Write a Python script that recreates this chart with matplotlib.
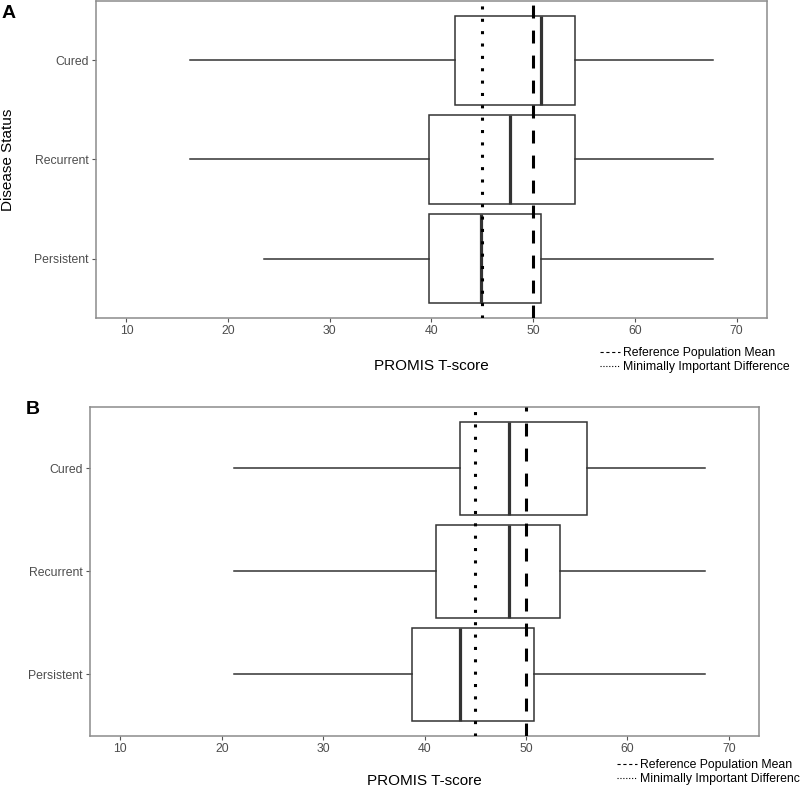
import matplotlib
matplotlib.use('Agg')
import matplotlib.pyplot as plt
from matplotlib.lines import Line2D

plt.rcParams['font.family'] = ['Liberation Sans', 'DejaVu Sans']
plt.rcParams['lines.scale_dashes'] = False

# ---------------- data ----------------
categories = ['Persistent', 'Recurrent', 'Cured']

# Panel A
a_whislo = [23.5, 16.2, 16.2]
a_q1 = [39.8, 39.8, 42.3]
a_med = [44.9, 47.7, 50.8]
a_q3 = [50.8, 54.1, 54.1]
a_whishi = [67.7, 67.7, 67.7]

# Panel B
b_whislo = [21.2, 21.2, 21.2]
b_q1 = [38.8, 41.1, 43.5]
b_med = [43.5, 48.3, 48.3]
b_q3 = [50.8, 53.3, 56.0]
b_whishi = [67.6, 67.6, 67.6]

ref_mean = 50
min_diff = 45
x_ticks = [10, 20, 30, 40, 50, 60, 70]
x_limits = (7, 73)
legend_labels = ['Reference Population Mean', 'Minimally Important Difference']

# ---------------- figure ----------------
W, H = 800, 790
fig = plt.figure(figsize=(W / 100, H / 100), dpi=100)


def fx(px):
    return px / W


def fy(py):
    return 1 - py / H


def panel(rect, lo, q1, med, q3, hi):
    ax = fig.add_axes(rect)
    stats = [dict(whislo=l, q1=a, med=m, q3=b, whishi=h, label=c)
             for l, a, m, b, h, c in zip(lo, q1, med, q3, hi, categories)]
    ax.bxp(stats, positions=[1, 2, 3], widths=0.9, orientation='horizontal',
           showfliers=False, showcaps=False, patch_artist=True,
           boxprops=dict(facecolor='white', edgecolor='#333333', linewidth=1.1),
           medianprops=dict(color='#333333', linewidth=2.3, solid_capstyle='butt'),
           whiskerprops=dict(color='#333333', linewidth=1.1))
    ax.axvline(min_diff, color='black', lw=2.2, ls=(0, (2.2, 6.7)), zorder=6)
    ax.axvline(ref_mean, color='black', lw=2.2, ls=(0, (9.3, 8.7)), zorder=6)
    ax.set_xlim(*x_limits)
    ax.set_ylim(0.4, 3.6)
    ax.set_xticks(x_ticks)
    ax.set_xticklabels([str(t) for t in x_ticks])
    ax.set_yticks([1, 2, 3])
    ax.set_yticklabels(categories)
    ax.tick_params(axis='both', length=2.9, width=0.8, color='#555555',
                   labelsize=8.8, labelcolor='#4d4d4d', pad=2.4)
    for s in ax.spines.values():
        s.set_color('#8c8c8c')
        s.set_linewidth(1.1)
    return ax


axA = panel([fx(96), fy(318), fx(767) - fx(96), fy(1) - fy(318)],
            a_whislo, a_q1, a_med, a_q3, a_whishi)
axB = panel([fx(90), fy(736), fx(759.3) - fx(90), fy(406.5) - fy(736)],
            b_whislo, b_q1, b_med, b_q3, b_whishi)

handles = [Line2D([], [], color='black', lw=0.8, ls=(0, (2.3, 1.9))),
           Line2D([], [], color='black', lw=0.8, ls=(0, (0.8, 1.3)))]

for ax, (lx, ly) in ((axA, (600, 347)), (axB, (617, 759))):
    ax.legend(handles, legend_labels, loc='upper left',
              bbox_to_anchor=(fx(lx), fy(ly)), bbox_transform=fig.transFigure,
              frameon=False, fontsize=8.8, borderpad=0, borderaxespad=0,
              handlelength=1.65, handletextpad=0.25, labelspacing=0.15)

fig.text(fx(431), fy(366), 'PROMIS T-score', ha='center', va='center', fontsize=11)
fig.text(fx(424.6), fy(781), 'PROMIS T-score', ha='center', va='center', fontsize=11)
fig.text(fx(8), fy(160), 'Disease Status', ha='center', va='center',
         rotation=90, fontsize=11)
fig.text(fx(9), fy(14), 'A', ha='center', va='center', fontsize=14, fontweight='bold')
fig.text(fx(33), fy(410), 'B', ha='center', va='center', fontsize=14, fontweight='bold')

fig.savefig('out.png', dpi=100)
